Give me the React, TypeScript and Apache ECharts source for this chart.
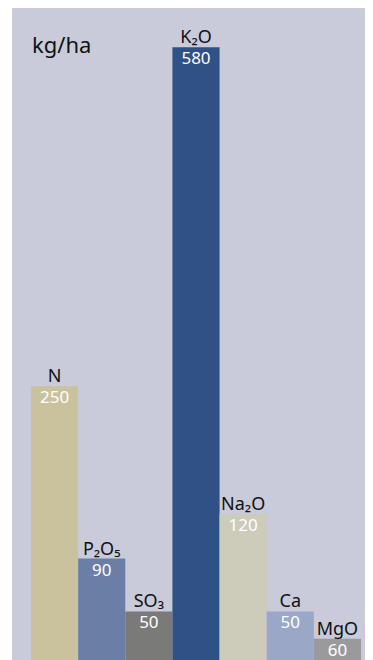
import React, { useEffect, useRef } from "react";
import * as echarts from "echarts";

// Categories (names with subscripts)
const categories = ["N", "P₂O₅", "SO₃", "K₂O", "Na₂O", "Ca", "MgO"];
// Printed values (kg/ha)
const values = [250, 90, 50, 580, 120, 50, 60];
// Bar heights as drawn in the picture (kg/ha scale)
const barHeights = [259, 96, 46, 580, 138, 46, 20];
const colors = ["#c9c29d", "#6a7ea6", "#7a7a78", "#2f5186", "#cdcbb9", "#9aa7c6", "#9a9a9c"];
const unit = "kg/ha";

export default function App() {
  const ref = useRef<HTMLDivElement>(null);
  useEffect(() => {
    if (!ref.current) return;
    const chart = echarts.init(ref.current, null, { renderer: "svg" });
    const font = "Noto Sans";
    chart.setOption({
      animation: false,
      backgroundColor: "#c9cbdb",
      textStyle: { fontFamily: font },
      grid: { left: 19, right: 12, top: 18, bottom: 0 },
      xAxis: {
        type: "category",
        data: categories,
        show: false,
      },
      yAxis: { type: "value", min: 0, max: 600, show: false },
      graphic: [
        {
          type: "text",
          left: 20,
          top: 25,
          style: { text: unit, fontSize: 22, fontFamily: font, fill: "#111" },
        },
      ],
      series: [
        {
          type: "bar",
          barCategoryGap: "0%",
          barGap: "-100%",
          data: barHeights.map((h, i) => ({
            value: h,
            itemStyle: { color: colors[i] },
          })),
          label: {
            show: true,
            position: "insideTop",
            distance: 3,
            color: "#ffffff",
            fontSize: 17,
            lineHeight: 15,
            fontFamily: font,
            formatter: (p: any) => String(values[p.dataIndex]),
          },
        },
        {
          type: "bar",
          barCategoryGap: "0%",
          barGap: "-100%",
          silent: true,
          data: barHeights.map((h) => ({ value: h, itemStyle: { color: "transparent" } })),
          label: {
            show: true,
            position: "top",
            distance: 2,
            color: "#111",
            fontSize: 18,
            lineHeight: 18,
            fontFamily: font,
            formatter: (p: any) => categories[p.dataIndex],
          },
        },
      ],
    });
    return () => chart.dispose();
  }, []);
  return (
    <div
      ref={ref}
      style={{ width: 361, height: 652, marginLeft: 4 }}
    />
  );
}
